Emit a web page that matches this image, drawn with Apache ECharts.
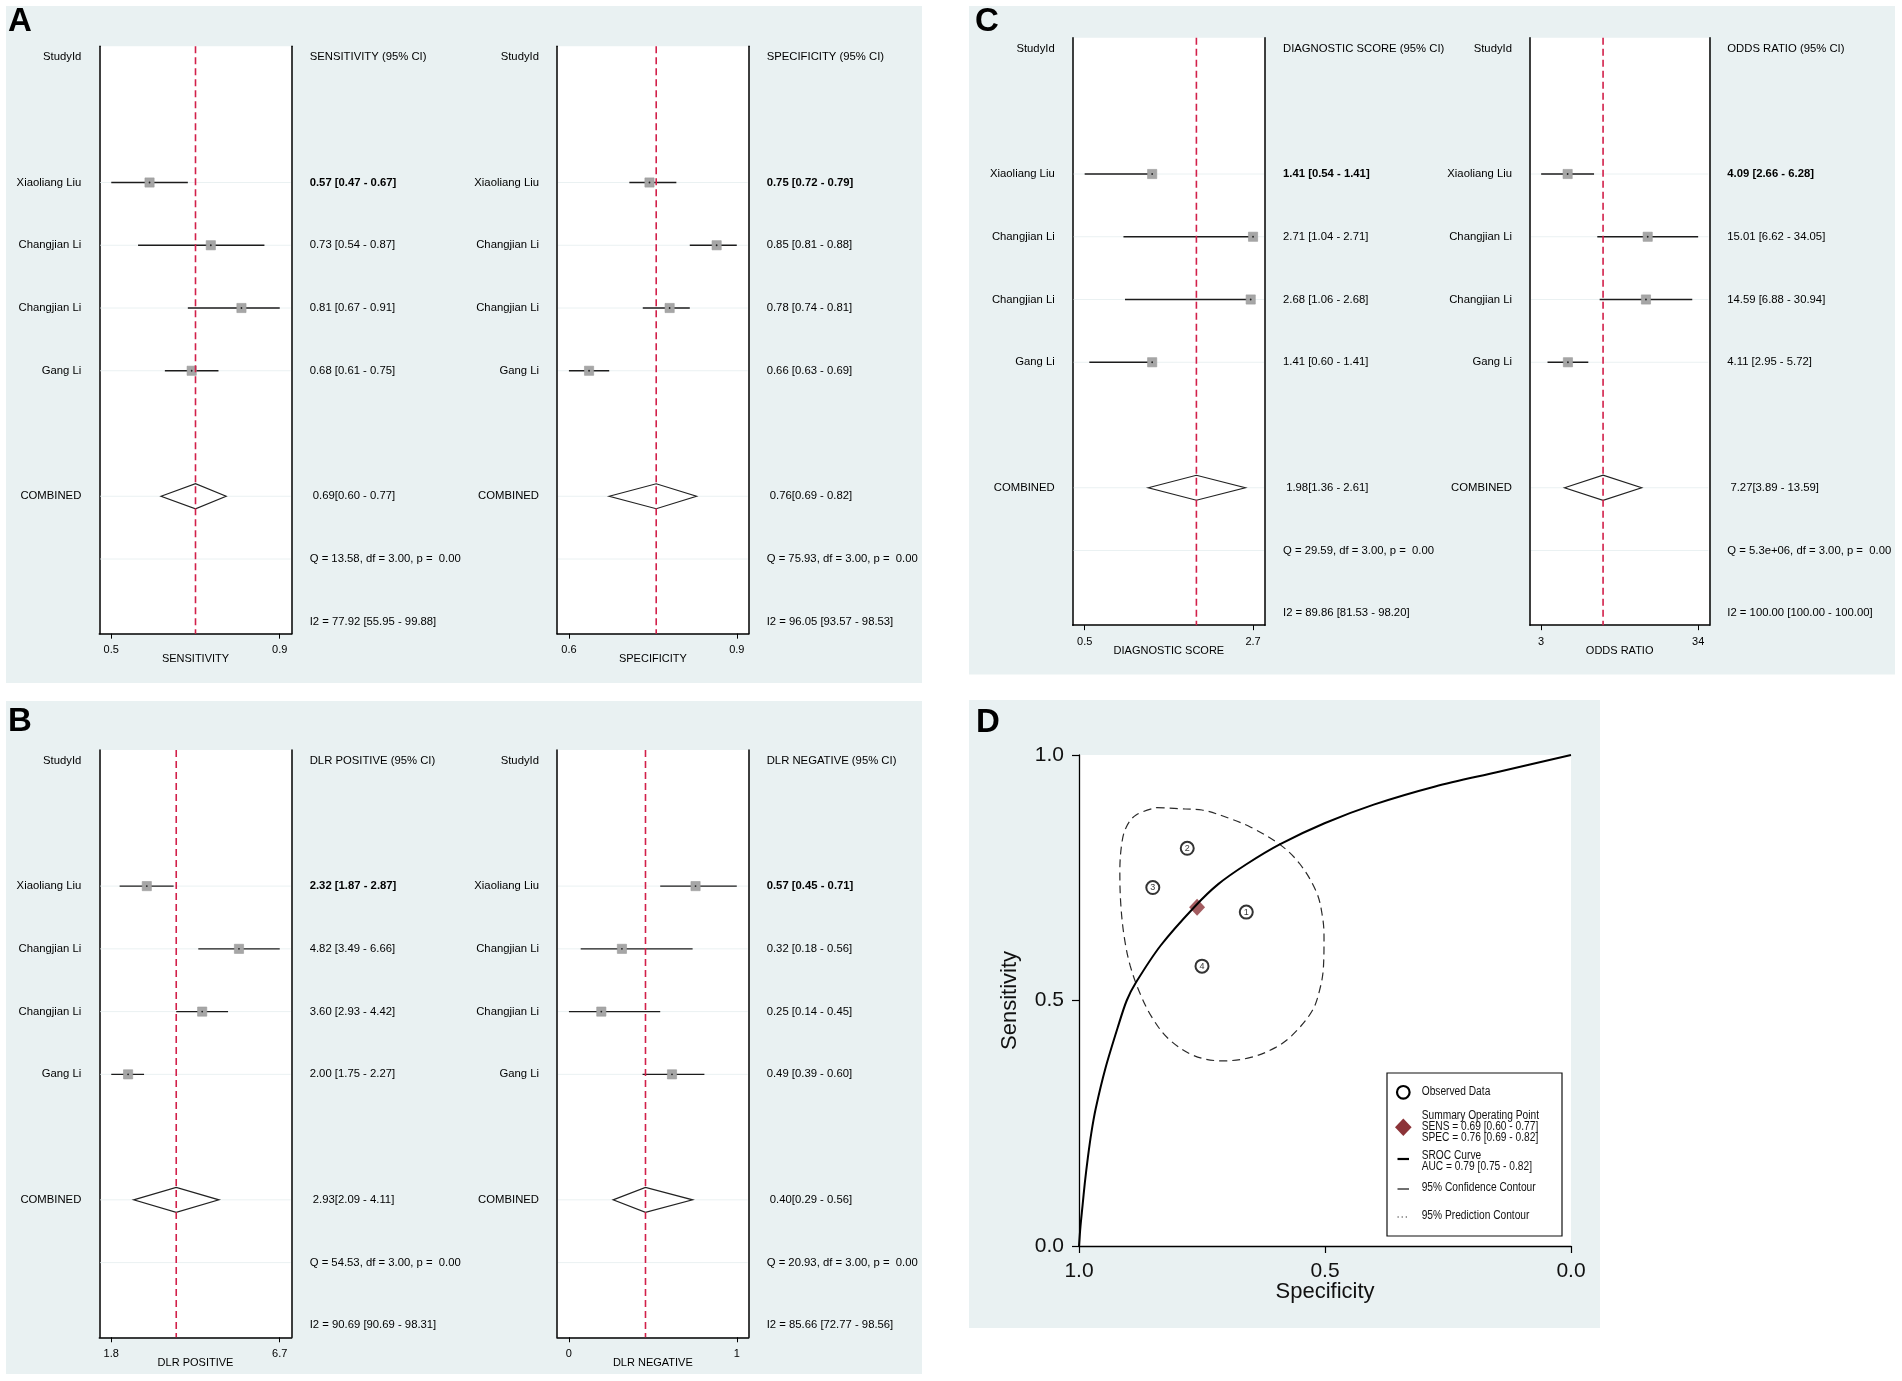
<!DOCTYPE html>
<html>
<head>
<meta charset="utf-8">
<script src="https://cdn.jsdelivr.net/npm/echarts@6/dist/echarts.min.js"></script>
<style>
html,body{margin:0;padding:0;background:#ffffff;}
#chart{width:1902px;height:1381px;}
</style>
</head>
<body>
<div id="chart"></div>
<script>
// ---------------- DATA ----------------
const studies = ['Xiaoliang Liu', 'Changjian Li', 'Changjian Li', 'Gang Li'];

const sensEst = [0.57, 0.73, 0.81, 0.68];
const sensLo  = [0.47, 0.54, 0.67, 0.61];
const sensHi  = [0.67, 0.87, 0.91, 0.75];
const sensPooled = [0.69, 0.60, 0.77];
const sensQ  = 'Q = 13.58, df = 3.00, p =  0.00';
const sensI2 = 'I2 = 77.92 [55.95 - 99.88]';

const specEst = [0.75, 0.85, 0.78, 0.66];
const specLo  = [0.72, 0.81, 0.74, 0.63];
const specHi  = [0.79, 0.88, 0.81, 0.69];
const specPooled = [0.76, 0.69, 0.82];
const specQ  = 'Q = 75.93, df = 3.00, p =  0.00';
const specI2 = 'I2 = 96.05 [93.57 - 98.53]';

const dlrpEst = [2.32, 4.82, 3.60, 2.00];
const dlrpLo  = [1.87, 3.49, 2.93, 1.75];
const dlrpHi  = [2.87, 6.66, 4.42, 2.27];
const dlrpPooled = [2.93, 2.09, 4.11];
const dlrpQ  = 'Q = 54.53, df = 3.00, p =  0.00';
const dlrpI2 = 'I2 = 90.69 [90.69 - 98.31]';

const dlrnEst = [0.57, 0.32, 0.25, 0.49];
const dlrnLo  = [0.45, 0.18, 0.14, 0.39];
const dlrnHi  = [0.71, 0.56, 0.45, 0.60];
const dlrnPooled = [0.40, 0.29, 0.56];
const dlrnQ  = 'Q = 20.93, df = 3.00, p =  0.00';
const dlrnI2 = 'I2 = 85.66 [72.77 - 98.56]';

const dsEst = [1.41, 2.71, 2.68, 1.41];
const dsLo  = [0.54, 1.04, 1.06, 0.60];
const dsHi  = [1.41, 2.71, 2.68, 1.41];
const dsPooled = [1.98, 1.36, 2.61];
const dsQ  = 'Q = 29.59, df = 3.00, p =  0.00';
const dsI2 = 'I2 = 89.86 [81.53 - 98.20]';

const orEst = [4.09, 15.01, 14.59, 4.11];
const orLo  = [2.66, 6.62, 6.88, 2.95];
const orHi  = [6.28, 34.05, 30.94, 5.72];
const orPooled = [7.27, 3.89, 13.59];
const orQ  = 'Q = 5.3e+06, df = 3.00, p =  0.00';
const orI2 = 'I2 = 100.00 [100.00 - 100.00]';

// SROC panel
const srocIds = [4, 3, 2, 1];           // label shown in each observed circle (study order above)
const aucCI = [0.79, 0.75, 0.82];
const srocSpec = [1.0, 0.997, 0.993, 0.988, 0.982, 0.975, 0.966, 0.946, 0.921, 0.903, 0.884, 0.834, 0.765, 0.717, 0.659, 0.592, 0.501, 0.401, 0.276, 0.151, 0.0];
const srocSens = [0.0, 0.04, 0.08, 0.13, 0.18, 0.23, 0.28, 0.363, 0.446, 0.5, 0.537, 0.612, 0.691, 0.737, 0.778, 0.818, 0.861, 0.899, 0.936, 0.965, 1.0];
const confSpec = [0.842, 0.784, 0.750, 0.692, 0.651, 0.592, 0.551, 0.517, 0.505, 0.502, 0.503, 0.509, 0.526, 0.567, 0.601, 0.651, 0.709, 0.767, 0.817, 0.850, 0.875, 0.896, 0.908, 0.915, 0.917, 0.913, 0.904, 0.884, 0.842];
const confSens = [0.893, 0.890, 0.888, 0.870, 0.853, 0.818, 0.778, 0.720, 0.670, 0.629, 0.571, 0.529, 0.479, 0.429, 0.404, 0.384, 0.377, 0.388, 0.421, 0.463, 0.512, 0.571, 0.629, 0.695, 0.762, 0.820, 0.853, 0.878, 0.893];

// ---------------- CONFIG ----------------
const FONT = "'Liberation Sans', Arial, Helvetica, sans-serif";
const FS = 11.3;
const PANEL_BG = '#e9f1f2';
const ROW = 62.75;
const YMIN = -0.17, YMAX = 9.19;
const PAD = 0.071;

const forests = [
  {name: 'SENSITIVITY', est: sensEst, lo: sensLo, hi: sensHi, pooled: sensPooled, q: sensQ, i2: sensI2, dec: 1, log: false},
  {name: 'SPECIFICITY', est: specEst, lo: specLo, hi: specHi, pooled: specPooled, q: specQ, i2: specI2, dec: 1, log: false},
  {name: 'DLR POSITIVE', est: dlrpEst, lo: dlrpLo, hi: dlrpHi, pooled: dlrpPooled, q: dlrpQ, i2: dlrpI2, dec: 1, log: true},
  {name: 'DLR NEGATIVE', est: dlrnEst, lo: dlrnLo, hi: dlrnHi, pooled: dlrnPooled, q: dlrnQ, i2: dlrnI2, dec: 0, log: false},
  {name: 'DIAGNOSTIC SCORE', est: dsEst, lo: dsLo, hi: dsHi, pooled: dsPooled, q: dsQ, i2: dsI2, dec: 1, log: false},
  {name: 'ODDS RATIO', est: orEst, lo: orLo, hi: orHi, pooled: orPooled, q: orQ, i2: orI2, dec: 0, log: true}
];
const forestLayout = [
  {left: 99.3, right: 291.7, y0: 57.0},
  {left: 557, right: 748.7, y0: 57.0},
  {left: 99.3, right: 291.7, y0: 760.6},
  {left: 557, right: 748.7, y0: 760.6},
  {left: 1072.7, right: 1265, y0: 48.5},
  {left: 1530, right: 1709.3, y0: 48.5}
];
const guideRows = [2, 3, 4, 5, 7, 8];

const f2 = v => v.toFixed(2);

const grids = [], xAxes = [], yAxes = [], series = [];

function renderGuide(params, api) {
  const row = api.value(0);
  const cs = params.coordSys;
  const p = api.coord([api.value(1), row]);
  return {type: 'line', shape: {x1: cs.x + 1, y1: p[1], x2: cs.x + cs.width - 1, y2: p[1]},
          style: {stroke: '#eaf1f2', lineWidth: 1}};
}

function renderForest(params, api) {
  const est = api.value(0), lo = api.value(1), hi = api.value(2), row = api.value(3), kind = api.value(4);
  const pE = api.coord([est, row]), pL = api.coord([lo, row]), pH = api.coord([hi, row]);
  const cs = params.coordSys;
  const ch = [];
  if (kind === 0) {
    ch.push({type: 'line', shape: {x1: pL[0], y1: pE[1], x2: pH[0], y2: pE[1]}, style: {stroke: '#1c1c1c', lineWidth: 1.4}});
    ch.push({type: 'rect', shape: {x: pE[0] - 4.6, y: pE[1] - 4.6, width: 9.2, height: 9.2}, style: {fill: '#a6a6a6', stroke: '#9a9a9a', lineWidth: 0.6}});
    ch.push({type: 'circle', shape: {cx: pE[0], cy: pE[1], r: 0.9}, style: {fill: '#222'}});
  } else {
    const h = 12.5;
    ch.push({type: 'polygon', shape: {points: [[pL[0], pE[1]], [pE[0], pE[1] - h], [pH[0], pE[1]], [pE[0], pE[1] + h]]},
             style: {fill: '#ffffff', stroke: '#222', lineWidth: 1.2}});
    ch.push({type: 'line', shape: {x1: pE[0], y1: cs.y, x2: pE[0], y2: cs.y + cs.height},
             style: {stroke: '#d2204a', lineWidth: 1.6, lineDash: [7, 4]}});
  }
  return {type: 'group', children: ch};
}

forests.forEach((f, i) => {
  const L = forestLayout[i];
  const lo = Math.min(...f.lo, f.pooled[1]);
  const hi = Math.max(...f.hi, f.pooled[2]);
  const T = f.log ? Math.log : (v => v);
  const Ti = f.log ? Math.exp : (v => v);
  const s = T(hi) - T(lo);
  const xmin = Ti(T(lo) - PAD * s), xmax = Ti(T(hi) + PAD * s);

  const leftText = {0: 'StudyId', 7: 'COMBINED'};
  const rightText = {0: f.name + ' (95% CI)', 7: ' ' + f2(f.pooled[0]) + '[' + f2(f.pooled[1]) + ' - ' + f2(f.pooled[2]) + ']', 8: f.q, 9: f.i2};
  studies.forEach((st, k) => {
    leftText[k + 2] = st;
    rightText[k + 2] = f2(f.est[k]) + ' [' + f2(f.lo[k]) + ' - ' + f2(f.hi[k]) + ']';
  });

  grids.push({left: L.left, top: L.y0 + YMIN * ROW, width: L.right - L.left, height: (YMAX - YMIN) * ROW,
              show: true, backgroundColor: '#ffffff', borderWidth: 0});
  xAxes.push({
    gridIndex: i, type: f.log ? 'log' : 'value', min: xmin, max: xmax, position: 'bottom',
    axisLine: {show: true, onZero: false, lineStyle: {color: '#000', width: 1.5}},
    axisTick: {show: true, customValues: [lo, hi], length: 5, lineStyle: {color: '#000', width: 1}},
    axisLabel: {show: true, customValues: [lo, hi], formatter: v => Number(v).toFixed(f.dec), margin: 11,
                fontSize: 11, color: '#000', fontFamily: FONT},
    splitLine: {show: false}, minorTick: {show: false},
    name: f.name, nameLocation: 'middle', nameGap: 20, nameMoveOverlap: false,
    nameTextStyle: {fontSize: 11, color: '#000', fontFamily: FONT}
  });
  yAxes.push({
    gridIndex: i, type: 'value', inverse: true, min: YMIN, max: YMAX, position: 'left',
    axisLine: {show: true, onZero: false, lineStyle: {color: '#000', width: 1.5}},
    axisTick: {show: false}, splitLine: {show: false},
    axisLabel: {show: true, customValues: [0, 2, 3, 4, 5, 7], formatter: v => leftText[v] || '', margin: 18,
                fontSize: FS, color: '#000', fontFamily: FONT}
  });
  yAxes.push({
    gridIndex: i, type: 'value', inverse: true, min: YMIN, max: YMAX, position: 'right',
    axisLine: {show: true, onZero: false, lineStyle: {color: '#000', width: 1.5}},
    axisTick: {show: false}, splitLine: {show: false},
    axisLabel: {show: true, customValues: [0, 2, 7, 8, 9, 3, 4, 5], margin: 18,
                formatter: v => (v === 2 ? '{b|' + rightText[v] + '}' : (rightText[v] || '')),
                fontSize: FS, color: '#000', fontFamily: FONT, align: 'left',
                rich: {b: {fontWeight: 'bold', fontSize: FS, color: '#000', fontFamily: FONT}}}
  });

  series.push({
    type: 'custom', name: f.name + ' guides', xAxisIndex: i, yAxisIndex: 2 * i, silent: true,
    renderItem: renderGuide, encode: {y: 0, x: 1},
    data: guideRows.map(r => [r, lo])
  });
  const fdata = f.est.map((e, k) => [e, f.lo[k], f.hi[k], k + 2, 0]);
  fdata.push([f.pooled[0], f.pooled[1], f.pooled[2], 7, 1]);
  series.push({
    type: 'custom', name: f.name, xAxisIndex: i, yAxisIndex: 2 * i, silent: true,
    renderItem: renderForest, encode: {x: [0, 1, 2], y: 3}, data: fdata
  });
});

// ---- SROC panel ----
const gi = grids.length;
grids.push({left: 1079, top: 755, width: 492, height: 491, show: true, backgroundColor: '#ffffff', borderWidth: 0});
xAxes.push({
  gridIndex: gi, type: 'value', inverse: true, min: 0, max: 1, interval: 0.5,
  axisLine: {show: true, onZero: false, lineStyle: {color: '#000', width: 1.3}},
  axisTick: {show: true, length: 7, lineStyle: {color: '#000', width: 1.2}},
  axisLabel: {formatter: v => v.toFixed(1), fontSize: 21, color: '#111', margin: 15, fontFamily: FONT},
  splitLine: {show: false},
  name: 'Specificity', nameLocation: 'middle', nameGap: 35, nameMoveOverlap: false,
  nameTextStyle: {fontSize: 22, color: '#111', fontFamily: FONT}
});
const gyi = yAxes.length;
yAxes.push({
  gridIndex: gi, type: 'value', min: 0, max: 1, interval: 0.5,
  axisLine: {show: true, onZero: false, lineStyle: {color: '#000', width: 1.3}},
  axisTick: {show: true, length: 7, lineStyle: {color: '#000', width: 1.2}},
  axisLabel: {formatter: v => v.toFixed(1), fontSize: 21, color: '#111', margin: 15, fontFamily: FONT},
  splitLine: {show: false},
  name: 'Sensitivity', nameLocation: 'middle', nameGap: 58, nameMoveOverlap: false,
  nameTextStyle: {fontSize: 22, color: '#111', fontFamily: FONT}
});

series.push({
  type: 'line', name: '95% Confidence Contour', xAxisIndex: gi, yAxisIndex: gyi,
  data: confSpec.map((s, k) => [s, confSens[k]]), showSymbol: false, smooth: 0.35, silent: true,
  lineStyle: {color: '#2a2a2a', width: 1.2, type: [8, 5]}, z: 2
});
series.push({
  type: 'scatter', name: 'Observed Data', xAxisIndex: gi, yAxisIndex: gyi,
  data: studies.map((s, k) => [specEst[k], sensEst[k], srocIds[k]]),
  symbol: 'circle', symbolSize: 13, silent: true,
  itemStyle: {color: '#ffffff', borderColor: '#000', borderWidth: 2},
  label: {show: true, position: 'inside', formatter: p => String(p.value[2]), fontSize: 9, color: '#000', fontFamily: FONT},
  z: 3
});
series.push({
  type: 'scatter', name: 'Summary Operating Point', xAxisIndex: gi, yAxisIndex: gyi,
  data: [[specPooled[0], sensPooled[0]]], symbol: 'diamond', symbolSize: [16, 17], silent: true,
  itemStyle: {color: '#8c3338'}, z: 4
});
series.push({
  type: 'line', name: 'SROC Curve', xAxisIndex: gi, yAxisIndex: gyi,
  data: srocSpec.map((s, k) => [s, srocSens[k]]), showSymbol: false, smooth: 0.3, silent: true,
  lineStyle: {color: '#000', width: 2}, z: 5
});

// ---- legend (graphic) ----
const LX = 1387, LY = 1073;
const legendText = (txt, y) => ({type: 'text', x: LX + 34.7, y: y, scaleX: 0.85, z: 21,
  style: {text: txt, fill: '#111', font: '12px ' + FONT, lineHeight: 11, textVerticalAlign: 'top'}});
const graphics = [
  // panel backgrounds
  {type: 'rect', shape: {x: 6, y: 6, width: 916, height: 677}, style: {fill: PANEL_BG}, z: -10},
  {type: 'rect', shape: {x: 6, y: 701, width: 916, height: 673}, style: {fill: PANEL_BG}, z: -10},
  {type: 'rect', shape: {x: 969, y: 6, width: 926, height: 668.5}, style: {fill: PANEL_BG}, z: -10},
  {type: 'rect', shape: {x: 969, y: 700, width: 631, height: 628}, style: {fill: PANEL_BG}, z: -10},
  // legend box
  {type: 'rect', shape: {x: LX, y: LY, width: 175, height: 163}, style: {fill: '#fff', stroke: '#111', lineWidth: 1.2}, z: 20},
  {type: 'circle', shape: {cx: LX + 16.3, cy: LY + 19.3, r: 6.3}, style: {fill: '#fff', stroke: '#000', lineWidth: 2.2}, z: 21},
  {type: 'polygon', shape: {points: [[LX + 16.3, LY + 45.5], [LX + 24.6, LY + 54.3], [LX + 16.3, LY + 63], [LX + 8, LY + 54.3]]}, style: {fill: '#8c3338'}, z: 21},
  {type: 'line', shape: {x1: LX + 10.5, y1: LY + 86, x2: LX + 22, y2: LY + 86}, style: {stroke: '#000', lineWidth: 2.2}, z: 21},
  {type: 'line', shape: {x1: LX + 10.5, y1: LY + 116, x2: LX + 22, y2: LY + 116}, style: {stroke: '#333', lineWidth: 1.4}, z: 21},
  {type: 'line', shape: {x1: LX + 10.5, y1: LY + 144, x2: LX + 22, y2: LY + 144}, style: {stroke: '#333', lineWidth: 1.2, lineDash: [1.3, 2.8]}, z: 21},
  legendText('Observed Data', LY + 13),
  legendText('Summary Operating Point\nSENS = ' + f2(sensPooled[0]) + ' [' + f2(sensPooled[1]) + ' - ' + f2(sensPooled[2]) + ']\nSPEC = ' + f2(specPooled[0]) + ' [' + f2(specPooled[1]) + ' - ' + f2(specPooled[2]) + ']', LY + 37),
  legendText('SROC Curve\nAUC = ' + f2(aucCI[0]) + ' [' + f2(aucCI[1]) + ' - ' + f2(aucCI[2]) + ']', LY + 77),
  legendText('95% Confidence Contour', LY + 109),
  legendText('95% Prediction Contour', LY + 137)
];

const titleStyle = {fontSize: 33, fontWeight: 'bold', color: '#000', fontFamily: FONT, lineHeight: 33};
const option = {
  animation: false,
  backgroundColor: '#ffffff',
  textStyle: {fontFamily: FONT},
  title: [
    {text: 'A', left: 8, top: 5.5, padding: 0, textStyle: titleStyle},
    {text: 'B', left: 8, top: 705.5, padding: 0, textStyle: titleStyle},
    {text: 'C', left: 975, top: 5.5, padding: 0, textStyle: titleStyle},
    {text: 'D', left: 976, top: 706, padding: 0, textStyle: titleStyle}
  ],
  grid: grids,
  xAxis: xAxes,
  yAxis: yAxes,
  series: series,
  graphic: graphics
};

const chart = echarts.init(document.getElementById('chart'), null, {renderer: 'canvas', width: 1902, height: 1381});
chart.setOption(option);
</script>
</body>
</html>
